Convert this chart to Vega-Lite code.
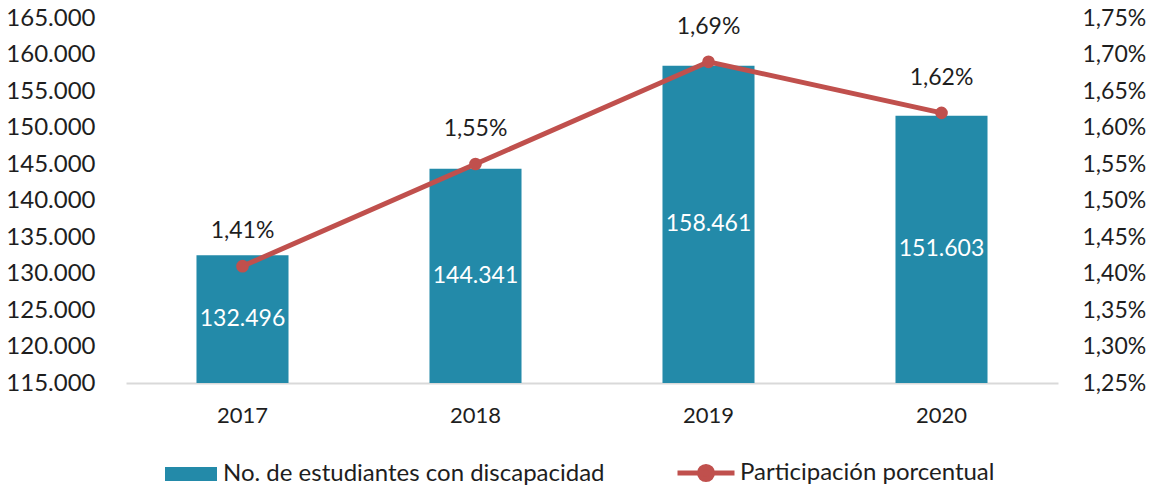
{
  "$schema": "https://vega.github.io/schema/vega-lite/v6.json",
  "width": 932,
  "height": 365,
  "autosize": "none",
  "padding": {"left": 126, "top": 18, "right": 96, "bottom": 104},
  "config": {
    "locale": {"number": {"decimal": ",", "thousands": ".", "grouping": [3], "currency": ["", "$"]}},
    "view": {"stroke": null},
    "font": "Lato",
    "axis": {"labelFont": "Lato", "labelFontSize": 23, "labelColor": "#1e1e1e", "grid": false, "ticks": false, "title": null, "labelOverlap": false},
    "axisY": {"labelOverlap": false, "tickCount": 11},
    "legend": {"labelFont": "Lato", "labelFontSize": 24, "labelColor": "#1e1e1e", "labelLimit": 600}
  },
  "data": {
    "values": [
      {"year": "2017", "n": 132496, "p": 0.0141},
      {"year": "2018", "n": 144341, "p": 0.0155},
      {"year": "2019", "n": 158461, "p": 0.0169},
      {"year": "2020", "n": 151603, "p": 0.0162}
    ]
  },
  "encoding": {
    "x": {
      "field": "year",
      "type": "ordinal",
      "scale": {"paddingInner": 0.605, "paddingOuter": 0.3025},
      "axis": {"labelAngle": 0, "domain": true, "domainColor": "#d9d9d9", "domainWidth": 2, "labelPadding": 22, "labelFontSize": 22, "title": null}
    }
  },
  "layer": [
    {
      "transform": [{"calculate": "(datum.n + 115000) / 2", "as": "mid"}],
      "encoding": {
        "y": {
          "field": "n",
          "type": "quantitative",
          "scale": {"domain": [115000, 165000], "nice": false, "zero": false},
          "axis": {"orient": "left", "values": [115000, 120000, 125000, 130000, 135000, 140000, 145000, 150000, 155000, 160000, 165000], "format": ",.0f", "domain": false, "labelPadding": 31, "title": null, "labelFontSize": 24, "labelOverlap": false, "labelFlush": false, "labelBound": false}
        }
      },
      "layer": [
        {
          "mark": {"type": "bar", "clip": true},
          "encoding": {
            "fill": {
              "datum": "No. de estudiantes con discapacidad",
              "scale": {"range": ["#238AA9"]},
              "legend": {"orient": "none", "legendX": 39, "legendY": 430, "title": null, "symbolType": "M-1,-0.27H1V0.27H-1Z", "symbolSize": 2704, "symbolStrokeWidth": 0, "labelOffset": 6}
            }
          }
        },
        {
          "mark": {"type": "text", "color": "white", "fontSize": 23, "font": "Lato", "baseline": "middle", "align": "center"},
          "encoding": {
            "y": {"field": "mid", "type": "quantitative", "axis": {"orient": "left", "values": [115000, 120000, 125000, 130000, 135000, 140000, 145000, 150000, 155000, 160000, 165000], "format": ",.0f", "domain": false, "labelPadding": 31, "title": null, "labelFontSize": 24, "labelOverlap": false, "labelFlush": false, "labelBound": false}},
            "text": {"field": "n", "type": "quantitative", "format": ",.0f"}
          }
        }
      ]
    },
    {
      "encoding": {
        "y": {
          "field": "p",
          "type": "quantitative",
          "scale": {"domain": [0.0125, 0.0175], "nice": false, "zero": false},
          "axis": {"orient": "right", "values": [0.0125, 0.013, 0.0135, 0.014, 0.0145, 0.015, 0.0155, 0.016, 0.0165, 0.017, 0.0175], "format": ".2%", "domain": false, "labelPadding": 24, "title": null, "labelOverlap": false, "labelFlush": false, "labelBound": false}
        }
      },
      "layer": [
        {
          "mark": {"type": "line", "strokeWidth": 5},
          "encoding": {
            "stroke": {
              "datum": "Participación porcentual",
              "scale": {"range": ["#C0504D"]},
              "legend": {"orient": "none", "legendX": 549, "legendY": 424, "title": null, "symbolType": "M-1,0H1M0.23,0A0.23,0.23,0,1,1,-0.23,0A0.23,0.23,0,1,1,0.23,0Z", "symbolSize": 3249, "symbolStrokeWidth": 5, "symbolFillColor": "#C0504D", "symbolStrokeColor": "#C0504D", "labelOffset": 3}
            }
          }
        },
        {
          "mark": {"type": "point", "filled": true, "color": "#C0504D", "size": 160, "opacity": 1},
          "encoding": {}
        },
        {
          "mark": {"type": "text", "color": "#1e1e1e", "fontSize": 23, "font": "Lato", "baseline": "middle", "align": "center", "dy": -35},
          "encoding": {
            "text": {"field": "p", "type": "quantitative", "format": ".2%"}
          }
        }
      ]
    }
  ],
  "resolve": {"scale": {"y": "independent"}}
}
